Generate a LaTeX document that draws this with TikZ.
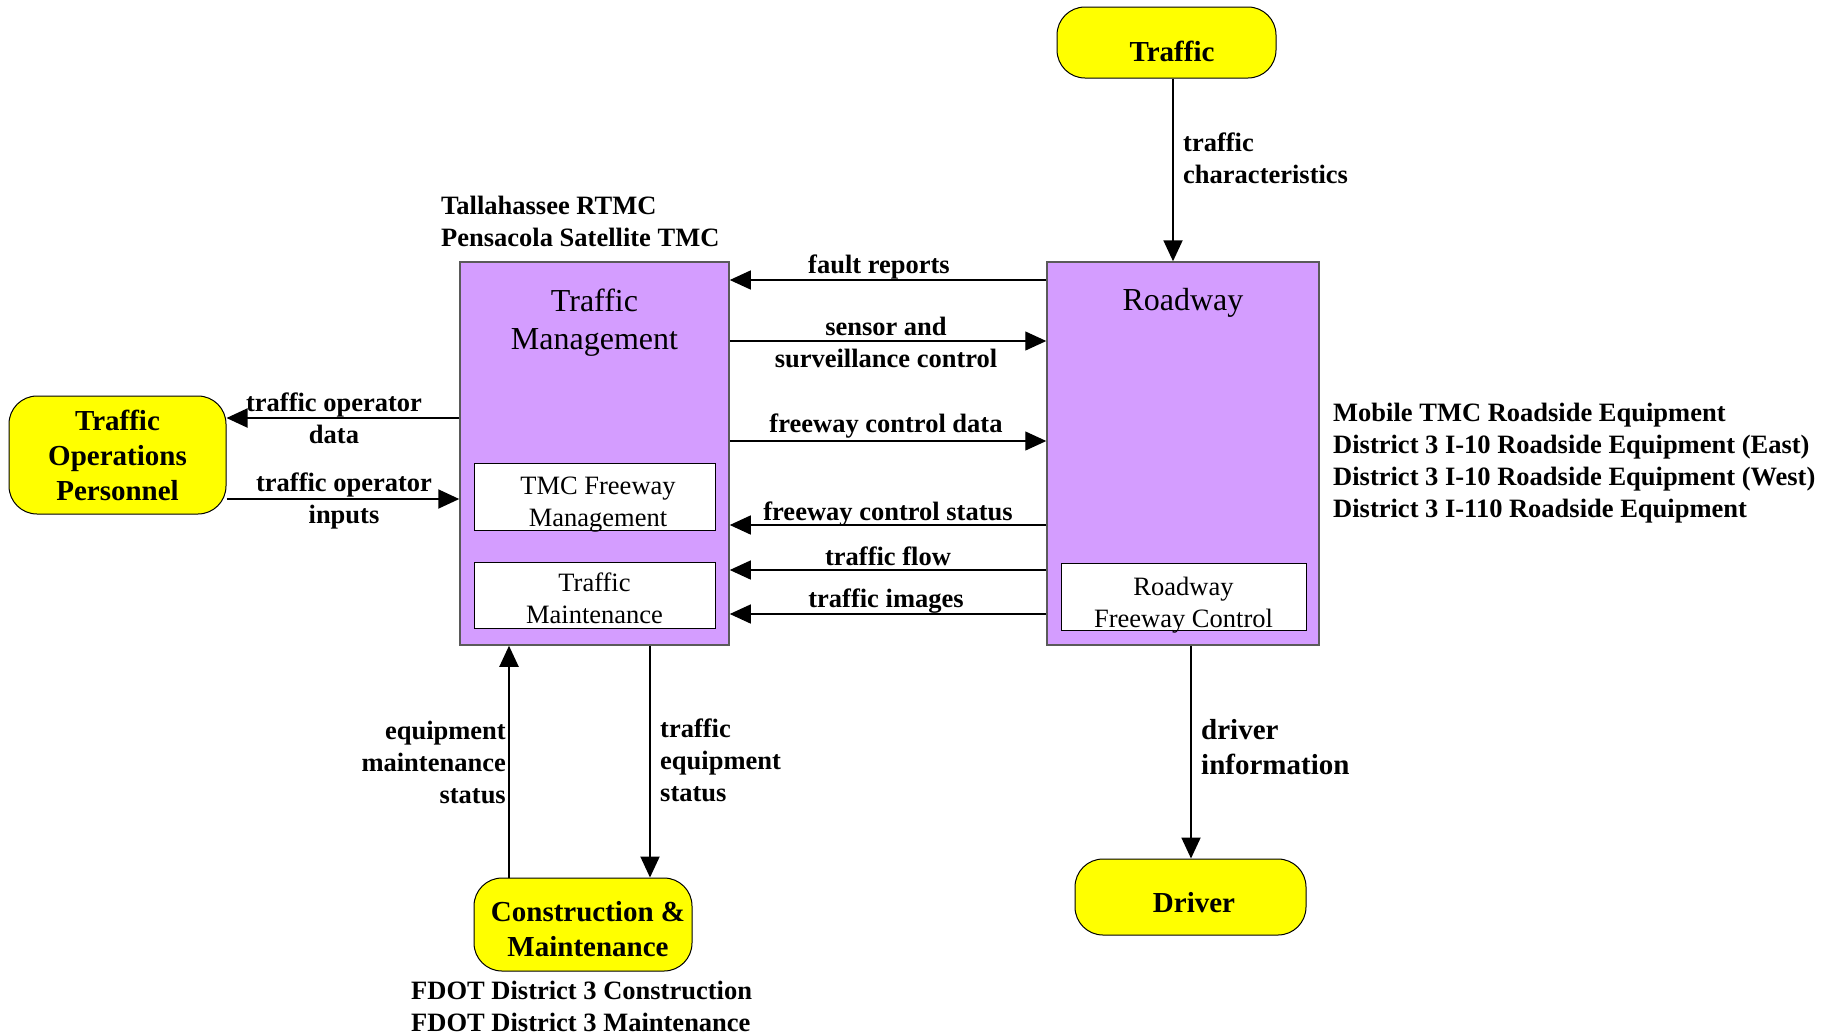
\documentclass[tikz,border=0pt]{standalone}
\usepackage{fontspec}
\setmainfont{Liberation Serif}
\usetikzlibrary{arrows.meta}
\definecolor{purp}{RGB}{212,157,255}
\definecolor{yel}{RGB}{255,255,0}
\definecolor{edgegray}{RGB}{90,90,90}
\begin{document}
\begin{tikzpicture}[x=1pt,y=-1pt,
  ext/.style={draw=black, line width=1pt, fill=yel, rounded corners=28pt, inner sep=0pt, align=center, font=\fontsize{29}{35}\selectfont\bfseries},
  exttext/.style={inner sep=0pt, align=center, font=\fontsize{29}{35}\selectfont\bfseries},
  bigbox/.style={draw=edgegray, line width=1.5pt, fill=purp, inner sep=0pt},
  subbox/.style={draw=black, line width=1pt, fill=white, inner sep=0pt, minimum width=241pt, minimum height=67pt},
  subtext/.style={inner sep=0pt, align=center, font=\fontsize{26.5}{32}\selectfont},
  titletext/.style={inner sep=0pt, align=center, font=\fontsize{32}{38.5}\selectfont},
  lbl/.style={inner sep=0pt, font=\fontsize{26.5}{32}\selectfont\bfseries},
  biglbl/.style={inner sep=0pt, font=\fontsize{29}{35}\selectfont\bfseries},
  arr/.style={line width=2pt, -{Triangle[length=21pt,width=19pt]}},
  tarr/.style={line width=1.3pt, -{Triangle[length=21pt,width=19pt]}}]
\useasboundingbox (0,0) rectangle (1835,1034);
% main boxes
\node[bigbox, minimum width=269pt, minimum height=383pt] (TM) at (594.5,453.5) {};
\node[bigbox, minimum width=272pt, minimum height=383pt] (RW) at (1183,453.5) {};
\node[titletext] (TMt) at (594.5,322.5) {Traffic\\Management};
\node[titletext] (RWt) at (1183,302.5) {Roadway};
\node[subbox] (TFM) at (594.5,497) {};
\node[subbox, minimum height=66pt] (TMA) at (594.5,595) {};
\node[subbox, minimum width=245pt] (RFC) at (1183.5,596.5) {};
\node[subtext] (TFMt) at (598,505) {TMC Freeway\\Management};
\node[subtext] (TMAt) at (594.5,598) {Traffic\\Maintenance};
\node[subtext] (RFCt) at (1183.5,605) {Roadway\\Freeway Control};
% terminators
\node[ext, minimum width=219pt, minimum height=71pt] (TR) at (1166.5,42.5) {};
\node[exttext] (TRt) at (1172,51) {Traffic};
\node[ext, minimum width=217pt, minimum height=118pt] (TOP) at (117.5,455) {Traffic\\Operations\\Personnel};
\node[ext, minimum width=218pt, minimum height=93pt] (CM) at (583,924.5) {};
\node[exttext] (CMt) at (588,929.5) {Construction \&\\Maintenance};
\node[ext, minimum width=231pt, minimum height=76pt] (DR) at (1190.5,897) {};
\node[exttext] (DRt) at (1194,903) {Driver};
% guide coordinates
\coordinate (yFR) at (0,280);
\coordinate (ySS) at (0,341);
\coordinate (yFD) at (0,441);
\coordinate (yFS) at (0,525);
\coordinate (yTF) at (0,570);
\coordinate (yTI) at (0,614);
\coordinate (yOD) at (0,418);
\coordinate (yOI) at (0,499);
\coordinate (xTC) at (1173,0);
\coordinate (xEM) at (509,0);
\coordinate (xTE) at (650,0);
\coordinate (xDI) at (1191,0);
% connectors
\draw[tarr] (RW.west |- yFR) -- (TM.east |- yFR);
\draw[tarr] (TM.east |- ySS) -- (RW.west |- ySS);
\draw[tarr] (TM.east |- yFD) -- (RW.west |- yFD);
\draw[tarr] (RW.west |- yFS) -- (TM.east |- yFS);
\draw[tarr] (RW.west |- yTF) -- (TM.east |- yTF);
\draw[tarr] (RW.west |- yTI) -- (TM.east |- yTI);
\draw[arr] (TM.west |- yOD) -- (TOP.east |- yOD);
\draw[arr] (TOP.east |- yOI) -- (TM.west |- yOI);
\draw[arr] (TR.south -| xTC) -- (RW.north -| xTC);
\draw[arr] (CM.north -| xEM) -- (TM.south -| xEM);
\draw[arr] (TM.south -| xTE) -- (CM.north -| xTE);
\draw[arr] (RW.south -| xDI) -- (DR.north -| xDI);
% labels
\node[lbl, align=left, anchor=west] (lTM) at (441,221) {Tallahassee RTMC\\Pensacola Satellite TMC};
\node[lbl, align=left, anchor=west] (lTC) at (1183,158) {traffic\\characteristics};
\node[lbl, align=left, anchor=west] (lRW) at (1333,463) {Mobile TMC Roadside Equipment\\District 3 I-10 Roadside Equipment (East)\\District 3 I-10 Roadside Equipment (West)\\District 3 I-110 Roadside Equipment};
\node[biglbl, align=left, anchor=west] (lDI) at (1201,747) {driver\\information};
\node[lbl, align=right, anchor=east] (lEM) at (506,762) {equipment\\maintenance\\status};
\node[lbl, align=left, anchor=west] (lTE) at (660,760.5) {traffic\\equipment\\status};
\node[lbl, align=left, anchor=west] (lCM) at (411,1006.5) {FDOT District 3 Construction\\FDOT District 3 Maintenance};
\node[lbl] (lFR) at (879,266.5) {fault reports};
\node[lbl, align=center] (lSS) at (886,342) {sensor and\\surveillance control};
\node[lbl] (lFD) at (886,426) {freeway control data};
\node[lbl] (lFS) at (888,514.5) {freeway control status};
\node[lbl] (lTF) at (888,556.5) {traffic flow};
\node[lbl] (lTI) at (886,601) {traffic images};
\node[lbl, align=center] (lOD) at (334,418) {traffic operator\\data};
\node[lbl, align=center] (lOI) at (344,501) {traffic operator\\inputs};
\end{tikzpicture}
\end{document}
